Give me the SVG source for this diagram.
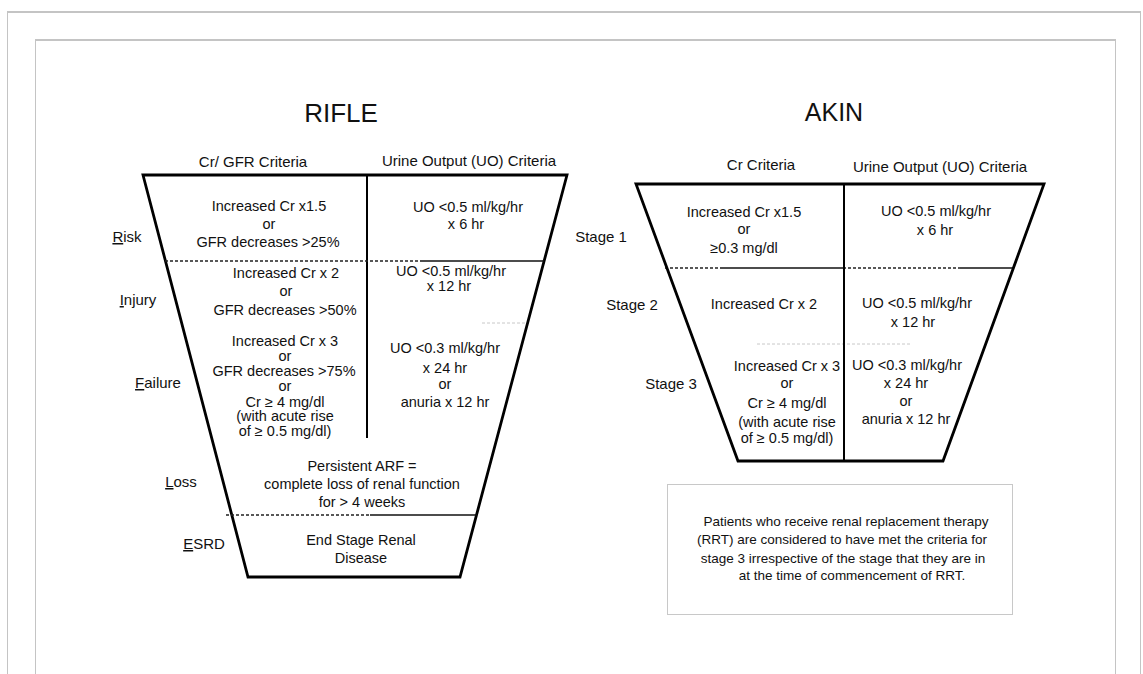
<svg xmlns="http://www.w3.org/2000/svg" width="1143" height="674" viewBox="0 0 1143 674">
<style>
text{font-family:"Liberation Sans",Arial,sans-serif;fill:#111;text-anchor:middle}
.title{font-size:26px}
.hdr{font-size:15px}
.lbl{font-size:15px}
.cell{font-size:14.5px}
.note{font-size:13.5px}
.edge{fill:none;stroke:#000;stroke-width:2.8;stroke-linejoin:miter}
.div{stroke:#000;stroke-width:2}
.dash{stroke:#222;stroke-width:1.3;stroke-dasharray:3 2}
.solid{stroke:#111;stroke-width:1.5}
.faint{stroke:#c8c8c8;stroke-width:1;stroke-dasharray:3 2}
.frame{fill:none;stroke:#c4c4c4;stroke-width:1}
.ftop{stroke:#c4c4c4;stroke-width:2}
</style>
<rect width="1143" height="674" fill="#fff"/>
<g id="frames">
<rect class="frame" x="7.5" y="12.5" width="1133" height="700"/>
<line class="ftop" x1="7" y1="12" x2="1141" y2="12"/>
<rect class="frame" x="35.5" y="40.5" width="1080" height="700"/>
<line class="ftop" x1="35" y1="40" x2="1116" y2="40"/>
</g>
<g id="rifle">
<text class="title" x="341" y="122">RIFLE</text>
<text class="hdr" x="253" y="167">Cr/ GFR Criteria</text>
<text class="hdr" x="469" y="166">Urine Output (UO) Criteria</text>
<polygon class="edge" points="143,175 567,175 460,577 248,577"/>
<line class="div" x1="367" y1="175" x2="367" y2="438"/>
</g>
<g id="connectors">
<line class="dash" x1="165" y1="261" x2="420" y2="261"/>
<line class="solid" x1="420" y1="261" x2="544" y2="261"/>
<line class="faint" x1="482" y1="323" x2="527" y2="323"/>
<line class="dash" x1="226" y1="515" x2="370" y2="515"/>
<line class="solid" x1="370" y1="515" x2="477" y2="515"/>
<line class="dash" x1="665" y1="268" x2="720" y2="268"/>
<line class="solid" x1="720" y1="268" x2="843" y2="268"/>
<line class="dash" x1="843" y1="268" x2="960" y2="268"/>
<line class="solid" x1="960" y1="268" x2="1013" y2="268"/>
<line class="faint" x1="757" y1="344" x2="910" y2="344"/>
</g>
<g id="risk">
<text class="lbl" x="127" y="242"><tspan text-decoration="underline">R</tspan>isk</text>
<text class="cell" x="269" y="211">Increased Cr x1.5</text>
<text class="cell" x="269" y="229">or</text>
<text class="cell" x="268" y="247">GFR decreases &gt;25%</text>
<text class="cell" x="468" y="212">UO &lt;0.5 ml/kg/hr</text>
<text class="cell" x="466" y="229">x 6 hr</text>
</g>
<g id="injury">
<text class="lbl" x="138" y="305"><tspan text-decoration="underline">I</tspan>njury</text>
<text class="cell" x="286" y="278">Increased Cr x 2</text>
<text class="cell" x="286" y="296">or</text>
<text class="cell" x="285" y="315">GFR decreases &gt;50%</text>
<text class="cell" x="451" y="276">UO &lt;0.5 ml/kg/hr</text>
<text class="cell" x="449" y="291">x 12 hr</text>
</g>
<g id="failure">
<text class="lbl" x="158" y="388"><tspan text-decoration="underline">F</tspan>ailure</text>
<text class="cell" x="285" y="346">Increased Cr x 3</text>
<text class="cell" x="285" y="361">or</text>
<text class="cell" x="284" y="376">GFR decreases &gt;75%</text>
<text class="cell" x="285" y="391">or</text>
<text class="cell" x="285" y="407">Cr ≥ 4 mg/dl</text>
<text class="cell" x="285" y="421">(with acute rise</text>
<text class="cell" x="285" y="436">of ≥ 0.5 mg/dl)</text>
<text class="cell" x="445" y="353">UO &lt;0.3 ml/kg/hr</text>
<text class="cell" x="445" y="373">x 24 hr</text>
<text class="cell" x="445" y="389">or</text>
<text class="cell" x="445" y="407">anuria x 12 hr</text>
</g>
<g id="loss">
<text class="lbl" x="181" y="487"><tspan text-decoration="underline">L</tspan>oss</text>
<text class="cell" x="362" y="471">Persistent ARF =</text>
<text class="cell" x="362" y="489">complete loss of renal function</text>
<text class="cell" x="362" y="507">for &gt; 4 weeks</text>
</g>
<g id="esrd">
<text class="lbl" x="204" y="549"><tspan text-decoration="underline">E</tspan>SRD</text>
<text class="cell" x="361" y="545">End Stage Renal</text>
<text class="cell" x="361" y="563">Disease</text>
</g>
<g id="akin">
<text class="title" x="834" y="121" style="font-size:25px">AKIN</text>
<text class="hdr" x="761" y="170">Cr Criteria</text>
<text class="hdr" x="940" y="172">Urine Output (UO) Criteria</text>
<polygon class="edge" points="636,184 1044,184 943,461 738,461"/>
<line class="div" x1="844" y1="184" x2="844" y2="461"/>
</g>
<g id="stage1">
<text class="lbl" x="601" y="242">Stage 1</text>
<text class="cell" x="744" y="217">Increased Cr x1.5</text>
<text class="cell" x="744" y="234">or</text>
<text class="cell" x="744" y="253">≥0.3 mg/dl</text>
<text class="cell" x="936" y="216">UO &lt;0.5 ml/kg/hr</text>
<text class="cell" x="935" y="235">x 6 hr</text>
</g>
<g id="stage2">
<text class="lbl" x="632" y="310">Stage 2</text>
<text class="cell" x="764" y="309">Increased Cr x 2</text>
<text class="cell" x="917" y="308">UO &lt;0.5 ml/kg/hr</text>
<text class="cell" x="913" y="327">x 12 hr</text>
</g>
<g id="stage3">
<text class="lbl" x="671" y="389">Stage 3</text>
<text class="cell" x="787" y="371">Increased Cr x 3</text>
<text class="cell" x="787" y="388">or</text>
<text class="cell" x="787" y="408">Cr ≥ 4 mg/dl</text>
<text class="cell" x="787" y="427">(with acute rise</text>
<text class="cell" x="787" y="443">of ≥ 0.5 mg/dl)</text>
<text class="cell" x="907" y="370">UO &lt;0.3 ml/kg/hr</text>
<text class="cell" x="906" y="388">x 24 hr</text>
<text class="cell" x="906" y="406">or</text>
<text class="cell" x="906" y="424">anuria x 12 hr</text>
</g>
<g id="rrt-note">
<rect x="667.5" y="484.5" width="345" height="130" fill="#fff" stroke="#c8c8c8" stroke-width="1"/>
<text class="note" x="846" y="526">Patients who receive renal replacement therapy</text>
<text class="note" x="842" y="544">(RRT) are considered to have met the criteria for</text>
<text class="note" x="843" y="563">stage 3 irrespective of the stage that they are in</text>
<text class="note" x="852" y="580">at the time of commencement of RRT.</text>
</g>
</svg>
